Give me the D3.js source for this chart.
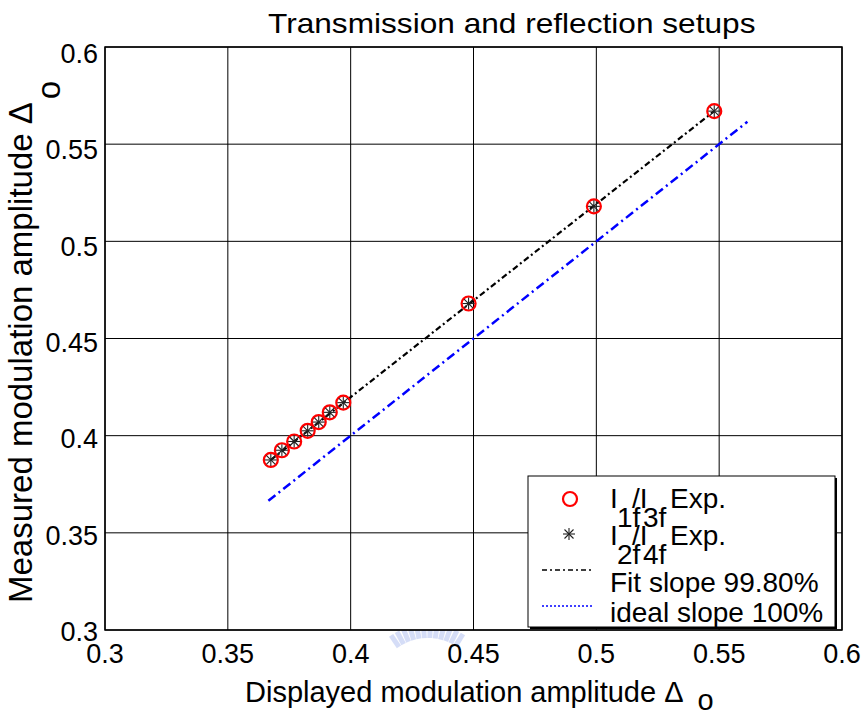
<!doctype html>
<html>
<head>
<script src="https://cdnjs.cloudflare.com/ajax/libs/d3/7.8.5/d3.min.js"></script>
<style>
body { margin: 0; background: #fff; }
text { font-family: "Liberation Sans", Arial, sans-serif; fill: #000; }
</style>
</head>
<body>
<svg id="chart" width="865" height="715"></svg>
<script>
// tick values
var xTicks = [0.3, 0.35, 0.4, 0.45, 0.5, 0.55, 0.6]
var yTicks = [0.3, 0.35, 0.4, 0.45, 0.5, 0.55, 0.6]

// measured points (I1f/I3f and I2f/I4f coincide)
var displayed = [0.3675, 0.372, 0.377, 0.3825, 0.387, 0.3915, 0.397, 0.448, 0.499, 0.548]
var measured  = [0.3875, 0.3925, 0.397, 0.4025, 0.407, 0.412, 0.417, 0.468, 0.518, 0.567]

// fit line and ideal line end points
var fitX = [0.3675, 0.548], fitY = [0.3875, 0.567]
var idealX = [0.3665, 0.5615], idealY = [0.3665, 0.5615]

var svg = d3.select("#chart")
var x = d3.scaleLinear().domain([0.3, 0.6]).range([105, 842])
var y = d3.scaleLinear().domain([0.3, 0.6]).range([630, 47])
var yLab = d3.scaleLinear().domain([0.3, 0.6]).range([641, 63])

// faint watermark under the axis
var wm = svg.append("g").attr("opacity", 0.35)
d3.range(-124, -54, 6).forEach(a => {
  var r = a * Math.PI / 180
  wm.append("line")
    .attr("x1", 428 + 52 * Math.cos(r)).attr("y1", 690 + 52 * Math.sin(r))
    .attr("x2", 428 + 66 * Math.cos(r)).attr("y2", 690 + 66 * Math.sin(r))
    .attr("stroke", "#8aa0ea").attr("stroke-width", 5)
})
svg.append("rect").attr("x", 105).attr("y", 47).attr("width", 737).attr("height", 583).attr("fill", "#fff")

// grid
svg.append("g").selectAll("line").data(xTicks).enter().append("line")
  .attr("x1", d => x(d)).attr("x2", d => x(d)).attr("y1", y(0.3)).attr("y2", y(0.6))
  .attr("stroke", "#000").attr("stroke-width", 1)
svg.append("g").selectAll("line").data(yTicks).enter().append("line")
  .attr("y1", d => y(d)).attr("y2", d => y(d)).attr("x1", x(0.3)).attr("x2", x(0.6))
  .attr("stroke", "#000").attr("stroke-width", 1)

// frame
svg.append("rect").attr("x", x(0.3)).attr("y", y(0.6))
  .attr("width", x(0.6) - x(0.3)).attr("height", y(0.3) - y(0.6))
  .attr("fill", "none").attr("stroke", "#000").attr("stroke-width", 1.5)

// tick labels
svg.append("g").selectAll("text").data(xTicks).enter().append("text")
  .attr("x", d => x(d)).attr("y", 663).attr("text-anchor", "middle")
  .style("font-size", "27px").text(d => d3.format("")(d))
svg.append("g").selectAll("text").data(yTicks).enter().append("text")
  .attr("x", 98).attr("y", d => yLab(d)).attr("text-anchor", "end")
  .style("font-size", "27px").text(d => d3.format("")(d))

// lines
var line = d3.line().x(d => x(d[0])).y(d => y(d[1]))
svg.append("path").datum(d3.zip(idealX, idealY)).attr("d", line)
  .attr("fill", "none").attr("stroke", "#0000ff").attr("stroke-width", 2.5)
  .attr("stroke-dasharray", "9,4,2,4")
svg.append("path").datum(d3.zip(fitX, fitY)).attr("d", line)
  .attr("fill", "none").attr("stroke", "#000").attr("stroke-width", 2.2)
  .attr("stroke-dasharray", "6,3,2,3")

function star(g, cx, cy, s) {
  [[s, 0], [0, s], [s * 0.75, s * 0.75], [s * 0.75, -s * 0.75]].forEach(v => {
    g.append("line").attr("x1", cx - v[0]).attr("y1", cy - v[1])
      .attr("x2", cx + v[0]).attr("y2", cy + v[1])
      .attr("stroke", "#222").attr("stroke-width", 1.1)
  })
}

var pts = d3.zip(displayed, measured)
svg.append("g").selectAll("circle").data(pts).enter().append("circle")
  .attr("cx", d => x(d[0])).attr("cy", d => y(d[1])).attr("r", 7)
  .attr("fill", "none").attr("stroke", "#ff0000").attr("stroke-width", 2.2)
var starG = svg.append("g")
pts.forEach(d => star(starG, x(d[0]), y(d[1]), 6))

// title and axis labels
svg.append("text").attr("transform", "translate(268,33) scale(1.13,1)").style("font-size", "28px")
  .text("Transmission and reflection setups")
var xl = svg.append("text").attr("x", 245).attr("y", 702).style("font-size", "29px")
xl.append("tspan").text("Displayed modulation amplitude \u0394")
xl.append("tspan").attr("dx", 14).attr("dy", 8).text("o")
var yl = svg.append("text").attr("transform", "translate(32,603) rotate(-90)")
  .style("font-size", "33px")
yl.append("tspan").text("Measured modulation amplitude  \u0394")
yl.append("tspan").attr("dx", 3).attr("dy", 28).text("o")

// legend
var lg = svg.append("g")
lg.append("rect").attr("x", 530).attr("y", 478).attr("width", 307).attr("height", 151).attr("fill", "#000")
lg.append("rect").attr("x", 528).attr("y", 476).attr("width", 307).attr("height", 151)
  .attr("fill", "#fff").attr("stroke", "#000").attr("stroke-width", 1)
lg.append("circle").attr("cx", 570).attr("cy", 499).attr("r", 7)
  .attr("fill", "none").attr("stroke", "#ff0000").attr("stroke-width", 2.2)
star(lg, 569, 534, 6)
lg.append("line").attr("x1", 542).attr("x2", 593).attr("y1", 570).attr("y2", 570)
  .attr("stroke", "#000").attr("stroke-width", 1.5).attr("stroke-dasharray", "5,3,2,3")
lg.append("line").attr("x1", 542).attr("x2", 593).attr("y1", 606).attr("y2", 606)
  .attr("stroke", "#0000ff").attr("stroke-width", 1.5).attr("stroke-dasharray", "2,2")

function ratioEntry(base, a, b) {
  var parts = [["I", 610, 0], [a, 617, 19], ["/I", 632, 0], [b, 643, 19], ["Exp.", 670, 0]]
  parts.forEach(p => {
    lg.append("text").attr("x", p[1]).attr("y", base + p[2]).style("font-size", "28px").text(p[0])
  })
}
ratioEntry(508, "1f", "3f")
ratioEntry(545, "2f", "4f")
lg.append("text").attr("x", 610).attr("y", 592).style("font-size", "28px").text("Fit slope 99.80%")
lg.append("text").attr("x", 610).attr("y", 622).style("font-size", "28px").text("ideal slope 100%")
</script>
</body>
</html>
